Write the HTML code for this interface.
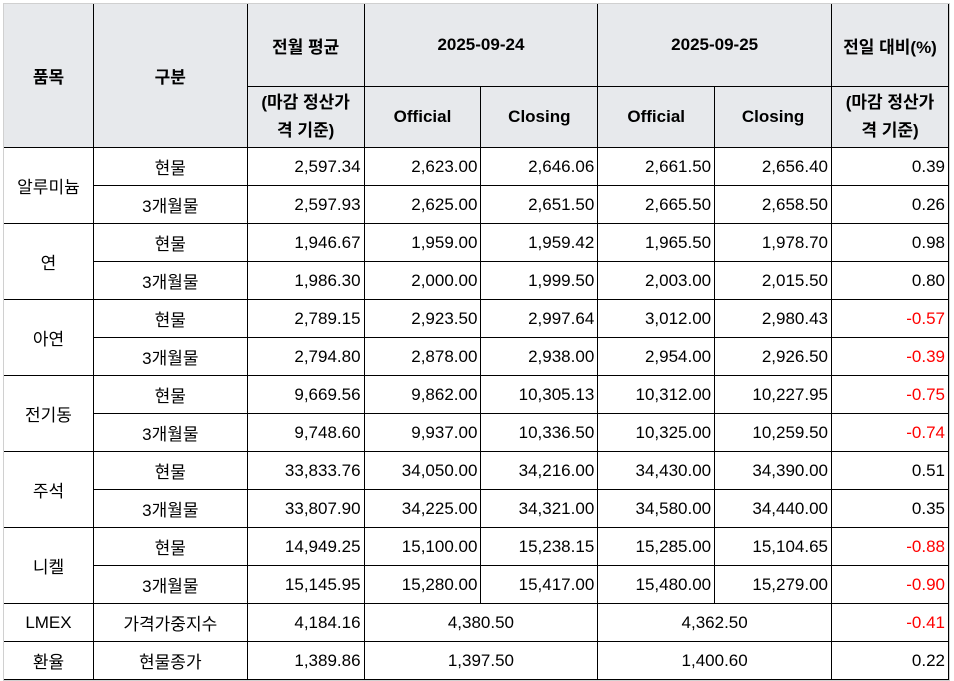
<!DOCTYPE html>
<html><head><meta charset="utf-8"><style>
body{margin:0;background:#fff;width:954px;height:681px;overflow:hidden;font-family:"Liberation Sans","Noto Sans CJK KR",sans-serif;}
.w{position:absolute;left:3px;top:3px;width:945px;height:676px;border:1px solid #d0d0d0;overflow:hidden;}
table{border-collapse:collapse;table-layout:fixed;margin:-1px 0 0 -1px;font-size:17px;color:#000;}
td{border:1px solid #000;padding:0 3px;white-space:nowrap;overflow:hidden;}
.h td{background:#e7e9ec;font-weight:bold;text-align:center;}
.c{text-align:center;}
.r{text-align:right;}
.n{color:#ff0000;}
tr.d{height:38px;}
</style></head><body><div class="w">
<table>
<colgroup><col style="width:90px"><col style="width:154px"><col style="width:117px"><col style="width:117px"><col style="width:117px"><col style="width:117px"><col style="width:117px"><col style="width:117px"></colgroup>
<tr class="h" style="height:83px"><td rowspan="2">품목</td><td rowspan="2">구분</td><td>전월 평균</td><td colspan="2">2025-09-24</td><td colspan="2">2025-09-25</td><td>전일 대비(%)</td></tr>
<tr class="h" style="height:61px"><td style="white-space:normal;line-height:28px">(마감 정산가<br>격 기준)</td><td>Official</td><td>Closing</td><td>Official</td><td>Closing</td><td style="white-space:normal;line-height:28px">(마감 정산가<br>격 기준)</td></tr>
<tr class="d"><td class="c" rowspan="2">알루미늄</td><td class="c">현물</td><td class="r">2,597.34</td><td class="r">2,623.00</td><td class="r">2,646.06</td><td class="r">2,661.50</td><td class="r">2,656.40</td><td class="r">0.39</td></tr>
<tr class="d"><td class="c">3개월물</td><td class="r">2,597.93</td><td class="r">2,625.00</td><td class="r">2,651.50</td><td class="r">2,665.50</td><td class="r">2,658.50</td><td class="r">0.26</td></tr>
<tr class="d"><td class="c" rowspan="2">연</td><td class="c">현물</td><td class="r">1,946.67</td><td class="r">1,959.00</td><td class="r">1,959.42</td><td class="r">1,965.50</td><td class="r">1,978.70</td><td class="r">0.98</td></tr>
<tr class="d"><td class="c">3개월물</td><td class="r">1,986.30</td><td class="r">2,000.00</td><td class="r">1,999.50</td><td class="r">2,003.00</td><td class="r">2,015.50</td><td class="r">0.80</td></tr>
<tr class="d"><td class="c" rowspan="2">아연</td><td class="c">현물</td><td class="r">2,789.15</td><td class="r">2,923.50</td><td class="r">2,997.64</td><td class="r">3,012.00</td><td class="r">2,980.43</td><td class="r n">-0.57</td></tr>
<tr class="d"><td class="c">3개월물</td><td class="r">2,794.80</td><td class="r">2,878.00</td><td class="r">2,938.00</td><td class="r">2,954.00</td><td class="r">2,926.50</td><td class="r n">-0.39</td></tr>
<tr class="d"><td class="c" rowspan="2">전기동</td><td class="c">현물</td><td class="r">9,669.56</td><td class="r">9,862.00</td><td class="r">10,305.13</td><td class="r">10,312.00</td><td class="r">10,227.95</td><td class="r n">-0.75</td></tr>
<tr class="d"><td class="c">3개월물</td><td class="r">9,748.60</td><td class="r">9,937.00</td><td class="r">10,336.50</td><td class="r">10,325.00</td><td class="r">10,259.50</td><td class="r n">-0.74</td></tr>
<tr class="d"><td class="c" rowspan="2">주석</td><td class="c">현물</td><td class="r">33,833.76</td><td class="r">34,050.00</td><td class="r">34,216.00</td><td class="r">34,430.00</td><td class="r">34,390.00</td><td class="r">0.51</td></tr>
<tr class="d"><td class="c">3개월물</td><td class="r">33,807.90</td><td class="r">34,225.00</td><td class="r">34,321.00</td><td class="r">34,580.00</td><td class="r">34,440.00</td><td class="r">0.35</td></tr>
<tr class="d"><td class="c" rowspan="2">니켈</td><td class="c">현물</td><td class="r">14,949.25</td><td class="r">15,100.00</td><td class="r">15,238.15</td><td class="r">15,285.00</td><td class="r">15,104.65</td><td class="r n">-0.88</td></tr>
<tr class="d"><td class="c">3개월물</td><td class="r">15,145.95</td><td class="r">15,280.00</td><td class="r">15,417.00</td><td class="r">15,480.00</td><td class="r">15,279.00</td><td class="r n">-0.90</td></tr>
<tr class="d"><td class="c">LMEX</td><td class="c">가격가중지수</td><td class="r">4,184.16</td><td class="c" colspan="2">4,380.50</td><td class="c" colspan="2">4,362.50</td><td class="r n">-0.41</td></tr>
<tr class="d"><td class="c">환율</td><td class="c">현물종가</td><td class="r">1,389.86</td><td class="c" colspan="2">1,397.50</td><td class="c" colspan="2">1,400.60</td><td class="r">0.22</td></tr>
</table></div></body></html>
